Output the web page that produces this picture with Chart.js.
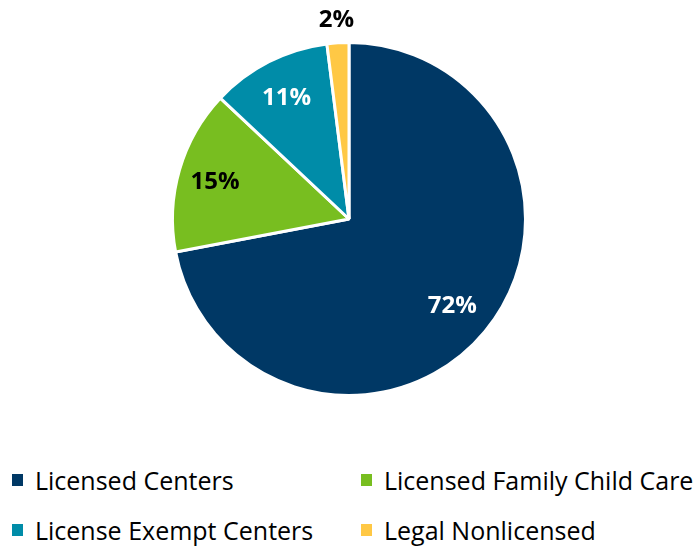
<!DOCTYPE html>
<html>
<head>
<meta charset="utf-8">
<script src="https://cdn.jsdelivr.net/npm/chart.js@4.4.1/dist/chart.umd.min.js"></script>
<style>
  body{margin:0;background:#fff;font-family:"Open Sans",sans-serif}
  #wrap{position:relative;width:698px;height:546px;overflow:hidden}
  #chartBox{position:absolute;left:0;top:0;width:698px;height:438px}
  .item{position:absolute;font-size:25px;color:#000;white-space:nowrap;line-height:30px;padding-left:23px}
  .item span{position:absolute;left:0;top:9px;width:11px;height:12px}
</style>
</head>
<body>
<div id="wrap">
  <div id="chartBox"><canvas id="chart"></canvas></div>
</div>
<script>
// --------- данные ---------
const labels=['Licensed Centers','Licensed Family Child Care','License Exempt Centers','Legal Nonlicensed'];
const values=[72,15,11,2];
const colors=['#003865','#78BE20','#008CA8','#FFC845'];
const labelColors=['#fff','#000','#fff','#000'];
const labelDist=[0.76,0.79,0.78,1.14];   // доля радиуса

// --------- подписи процентов ---------
const pctLabels={
  id:'pctLabels',
  afterDatasetsDraw(ch){
    const ctx=ch.ctx;
    const meta=ch.getDatasetMeta(0);
    ctx.save();
    ctx.font='bold 24px "Open Sans", sans-serif';
    ctx.textAlign='center';ctx.textBaseline='middle';
    meta.data.forEach((arc,i)=>{
      const a=(arc.startAngle+arc.endAngle)/2;
      const r=arc.outerRadius*labelDist[i];
      ctx.fillStyle=labelColors[i];
      ctx.fillText(values[i]+'%',arc.x+Math.cos(a)*r,arc.y+Math.sin(a)*r+2);
    });
    ctx.restore();
  }
};

new Chart(document.getElementById('chart'),{
  type:'pie',
  data:{labels:labels,datasets:[{data:values,backgroundColor:colors,borderColor:'#fff',borderWidth:3}]},
  options:{
    responsive:true,maintainAspectRatio:false,animation:false,
    layout:{padding:{top:41,bottom:41}},
    plugins:{legend:{display:false},tooltip:{enabled:false}}
  },
  plugins:[pctLabels]
});

// --------- легенда (две колонки) ---------
const legPos=[[12,465],[361,465],[12,515],[361,515]];
const wrap=document.getElementById('wrap');
labels.forEach((l,i)=>{
  const d=document.createElement('div');
  d.className='item';
  d.style.left=legPos[i][0]+'px';d.style.top=legPos[i][1]+'px';
  d.innerHTML='<span style="background:'+colors[i]+'"></span>'+l;
  wrap.appendChild(d);
});
</script>
</body>
</html>
